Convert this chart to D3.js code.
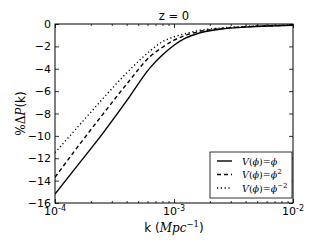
<!DOCTYPE html>
<html><head><meta charset="utf-8">
<script src="https://cdn.jsdelivr.net/npm/d3@7"></script>
<style>body{margin:0;background:#fff}svg{display:block}</style>
</head><body>
<svg id="c" width="327" height="245"></svg>
<script>
const logK = [-4, -3.8, -3.6, -3.4, -3.2, -3.1, -3.0, -2.9, -2.8, -2.6, -2.4, -2.2, -2.0];
const solid = [-15.2, -12.5, -9.8, -6.9, -3.9, -2.8, -1.9, -1.25, -0.85, -0.45, -0.28, -0.18, -0.12];
const dashed = [-13.7, -10.85, -8.1, -5.4, -2.9, -2.1, -1.45, -1.0, -0.7, -0.4, -0.25, -0.16, -0.11];
const dotted = [-11.5, -9.1, -6.7, -4.4, -2.4, -1.6, -1.15, -0.85, -0.6, -0.35, -0.22, -0.14, -0.1];
const yTicks = [0, -2, -4, -6, -8, -10, -12, -14, -16];
const xTicks = [1e-4, 1e-3, 1e-2];
const xTickExp = ["-4", "-3", "-2"];

const svg = d3.select("#c");
const L = 55, R = 293, T = 24, B = 203;
const x = d3.scaleLog().domain([1e-4, 1e-2]).range([L, R]);
const y = d3.scaleLinear().domain([-16, 0]).range([B, T]);
const sans = "DejaVu Sans", serif = "DejaVu Serif";

const series = [
  {v: solid, dash: null},
  {v: dashed, dash: "4,3"},
  {v: dotted, dash: "1.2,2.6"}
];
const line = d3.line().x((d,i)=>x(Math.pow(10, logK[i]))).y(d=>y(d)).curve(d3.curveMonotoneX);
const g = svg.append("g");
g.append("clipPath").attr("id","clip").append("rect").attr("x",L).attr("y",T).attr("width",R-L).attr("height",B-T);
series.forEach(s => {
  g.append("path").attr("d", line(s.v)).attr("fill","none").attr("stroke","#000")
   .attr("stroke-width",1.4).attr("stroke-dasharray", s.dash).attr("clip-path","url(#clip)");
});

// frame
svg.append("rect").attr("x",L).attr("y",T).attr("width",R-L).attr("height",B-T)
  .attr("fill","none").attr("stroke","#000").attr("stroke-width",1);

// x ticks (inward), top and bottom
const minor = [];
for (let e=-4; e<-2; e++) for (let m=2; m<=9; m++) minor.push(m*Math.pow(10,e));
const xAxB = d3.axisBottom(x).tickValues(xTicks).tickSize(-4).tickFormat("");
const xAxT = d3.axisTop(x).tickValues(xTicks).tickSize(-4).tickFormat("");
const xmB = d3.axisBottom(x).tickValues(minor).tickSize(-2).tickFormat("");
const xmT = d3.axisTop(x).tickValues(minor).tickSize(-2).tickFormat("");
[[xAxB,B],[xmB,B],[xAxT,T],[xmT,T]].forEach(([a,yy])=>{
  const gg = svg.append("g").attr("transform",`translate(0,${yy})`).call(a);
  gg.select(".domain").remove();
  gg.selectAll("line").attr("stroke","#000").attr("stroke-width",0.8);
});
const yAxL = d3.axisLeft(y).tickValues(yTicks).tickSize(-4).tickFormat("");
const yAxR = d3.axisRight(y).tickValues(yTicks).tickSize(-4).tickFormat("");
[[yAxL,L],[yAxR,R]].forEach(([a,xx])=>{
  const gg = svg.append("g").attr("transform",`translate(${xx},0)`).call(a);
  gg.select(".domain").remove();
  gg.selectAll("line").attr("stroke","#000").attr("stroke-width",0.8);
});

// y tick labels
yTicks.forEach(v=>{
  svg.append("text").attr("x",51).attr("y",y(v)+4).attr("text-anchor","end")
    .attr("font-family",sans).attr("font-size",11)
    .text(v===0 ? "0" : "\u2212" + Math.abs(v));
});
// x tick labels
xTicks.forEach((v,i)=>{
  const t = svg.append("text").attr("x",x(v)).attr("y",215).attr("text-anchor","middle")
    .attr("font-family",sans).attr("font-size",11);
  t.append("tspan").text("10");
  t.append("tspan").attr("dy",-4).attr("font-size",8).text(xTickExp[i]);
});

// title
svg.append("text").attr("x",(L+R)/2).attr("y",20).attr("text-anchor","middle")
  .attr("font-family",sans).attr("font-size",11.5).text("z = 0");

// x label
const xl = svg.append("text").attr("x",(L+R)/2).attr("y",232).attr("text-anchor","middle")
  .attr("font-family",sans).attr("font-size",12);
xl.append("tspan").text("k (");
xl.append("tspan").attr("font-family",serif).attr("font-style","italic").text("Mpc");
xl.append("tspan").attr("dy",-5).attr("font-size",8.5).attr("font-family",serif).text("\u22121");
xl.append("tspan").attr("dy",5).text(")");

// y label
const yl = svg.append("text").attr("transform",`translate(25,${(T+B)/2}) rotate(-90)`)
  .attr("text-anchor","middle").attr("font-family",sans).attr("font-size",12);
yl.append("tspan").attr("font-family",serif).text("%\u0394");
yl.append("tspan").attr("font-family",serif).attr("font-style","italic").text("P");
yl.append("tspan").text("(k)");

// legend
const lg = svg.append("g");
lg.append("rect").attr("x",210).attr("y",152).attr("width",82).attr("height",46)
  .attr("fill","#fff").attr("stroke","#000").attr("stroke-width",0.8);
const rows = [161, 174.5, 188];
series.forEach((s,i)=>{
  lg.append("line").attr("x1",217).attr("x2",232).attr("y1",rows[i]).attr("y2",rows[i])
    .attr("stroke","#000").attr("stroke-width",1.4).attr("stroke-dasharray",s.dash);
  const t = lg.append("text").attr("x",242).attr("y",rows[i]+3.5).attr("font-family",serif).attr("font-size",9.5);
  t.append("tspan").attr("font-style","italic").text("V");
  t.append("tspan").text("(");
  t.append("tspan").attr("font-style","italic").text("\u03D5");
  t.append("tspan").text(")=");
  t.append("tspan").attr("font-style","italic").text("\u03D5");
  if (i>0) t.append("tspan").attr("dy",-4).attr("font-size",7).text(i===1?"2":"\u22122");
});
</script>
</body></html>
